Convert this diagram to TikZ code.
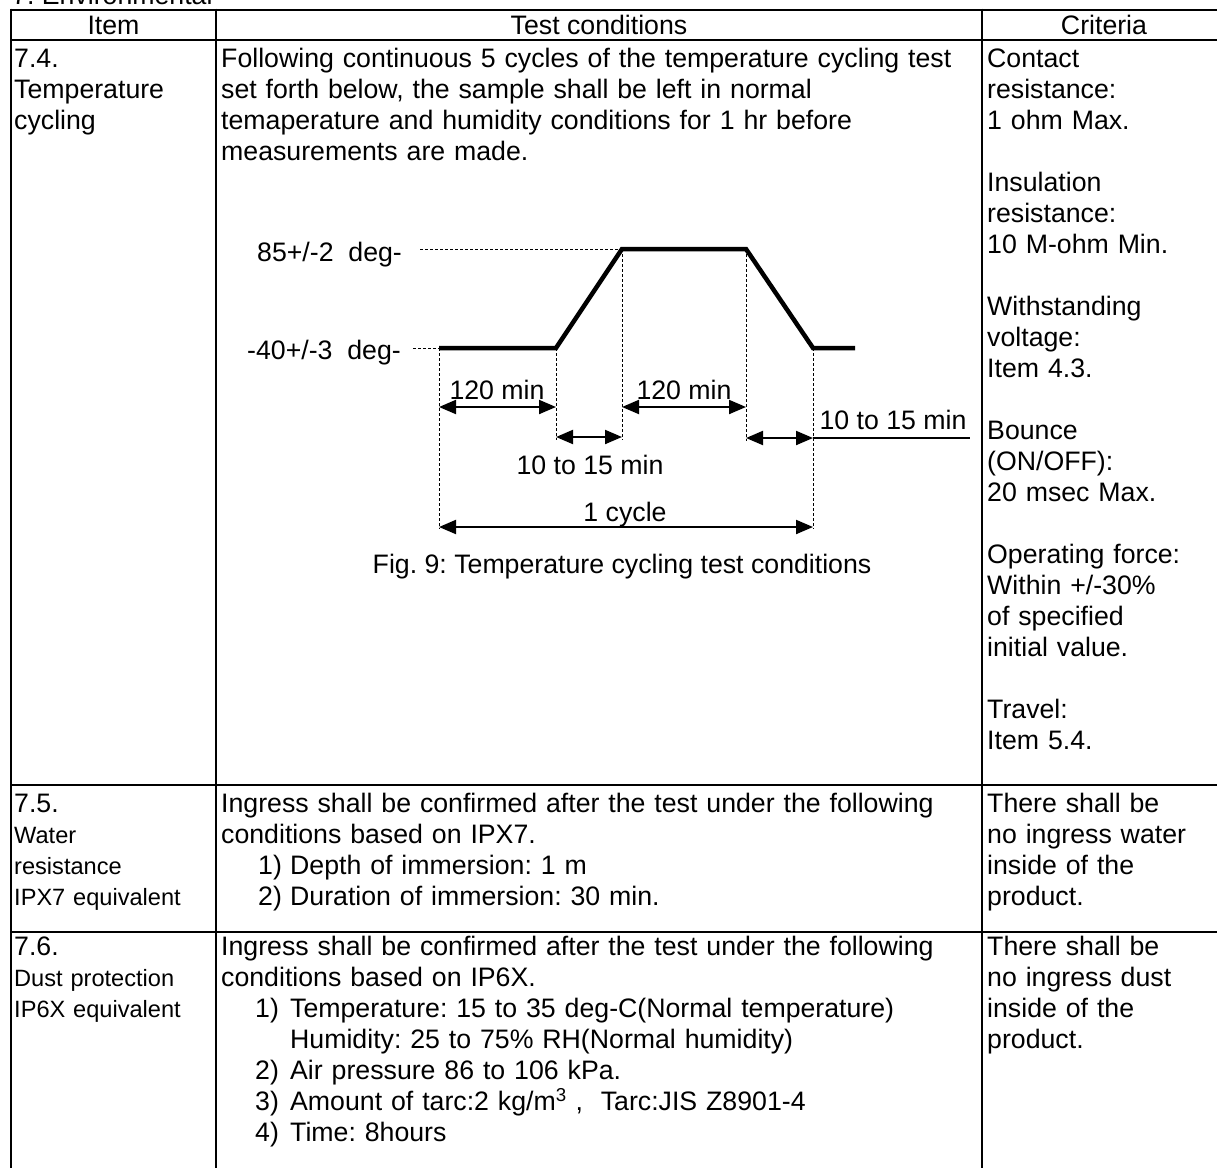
\documentclass[tikz,border=0pt]{standalone}
\usepackage{fontspec}
\setmainfont{Liberation Sans}
\usetikzlibrary{arrows.meta}
\tikzset{
  gridline/.style={line width=2.6pt},
  fnt/.style={font=\fontsize{26.7}{31}\selectfont\frenchspacing, inner sep=0pt},
  smallfnt/.style={font=\fontsize{23.6}{31}\selectfont\frenchspacing, inner sep=0pt},
  hdr/.style={fnt, anchor=base},
  paranode/.style={fnt, anchor=base west, text width=#1, align=left},
  smallpara/.style={smallfnt, anchor=base west, text width=#1, align=left},
  lbl/.style={fnt, anchor=base},
  curve/.style={line width=4.5pt, line join=miter},
  guide/.style={line width=0.8pt, dash pattern=on 3pt off 2pt},
  dimarrow/.style={line width=2pt, {Triangle[length=17pt,width=14pt]}-{Triangle[length=17pt,width=14pt]}},
  thinline/.style={line width=2pt}
}
\begin{document}
\begin{tikzpicture}[x=1pt,y=-1pt]
\useasboundingbox (0,0) rectangle (1217,1167);
\fill[white] (0,0) rectangle (1217,1167);

% title (cut off at the top, as in the reference)
\node[fnt, anchor=base west] (title) at (12,4.5) {7. Environmental};

% table grid
\draw[gridline] (11,10) -- (1230,10);
\draw[gridline] (11,40) -- (1230,40);
\draw[gridline] (11,785) -- (1230,785);
\draw[gridline] (11,932) -- (1230,932);
\draw[gridline] (11,8.7) -- (11,1170);
\draw[gridline] (216,8.7) -- (216,1170);
\draw[gridline] (982,8.7) -- (982,1170);

% header
\node[hdr] (h1) at (113.5,34.5) {Item};
\node[hdr] (h2) at (599,34.5) {Test conditions};
\node[hdr] (h3) at (1104,34.5) {Criteria};

% row 7.4
\node[paranode=200pt] (i74) at (14,67.5) {7.4.\\Temperature\\cycling};
\node[paranode=755pt] (c74) at (221,67.5) {Following continuous 5 cycles of the temperature cycling test\\set forth below, the sample shall be left in normal\\temaperature and humidity conditions for 1 hr before\\measurements are made.};
\node[paranode=230pt] (k74) at (987,67.5) {Contact\\resistance:\\1 ohm Max.\\[31pt]Insulation\\resistance:\\10 M-ohm Min.\\[31pt]Withstanding\\voltage:\\Item 4.3.\\[31pt]Bounce\\(ON/OFF):\\20 msec Max.\\[31pt]Operating force:\\Within +/-30\%\\of specified\\initial value.\\[31pt]Travel:\\Item 5.4.};

% diagram
\coordinate (p0) at (439,348);
\coordinate (p1) at (556,348);
\coordinate (p2) at (622,249);
\coordinate (p3) at (746,249);
\coordinate (p4) at (813,348);
\coordinate (p5) at (855,348);
\coordinate (g85) at (420,249);
\coordinate (g40) at (413,348);

\node[fnt, anchor=base west] (t85) at (257,261) {85+/-2\ \ deg-};
\node[fnt, anchor=base west] (t40) at (247,359) {-40+/-3\ \ deg-};

\draw[guide] (g85) -- (p2);
\draw[guide] (g40) -- (p0);

\coordinate (v0) at (439,529);
\coordinate (v1) at (556,440);
\coordinate (v2) at (622,440);
\coordinate (v3) at (746,441);
\coordinate (v4) at (813,529);
\draw[guide] (p0) -- (v0);
\draw[guide] (p1) -- (v1);
\draw[guide] (p2) -- (v2);
\draw[guide] (p3) -- (v3);
\draw[guide] (p4) -- (v4);

\draw[curve] (p0) -- (p1) -- (p2) -- (p3) -- (p4) -- (p5);

% dimension arrows
\coordinate (a1l) at (439,407);
\coordinate (a1r) at (556,407);
\coordinate (a2l) at (556,437);
\coordinate (a2r) at (622,437);
\coordinate (a3l) at (622,407);
\coordinate (a3r) at (746,407);
\coordinate (a4l) at (746,438);
\coordinate (a4r) at (813,438);
\coordinate (a4e) at (970,438);
\coordinate (a5l) at (439,527);
\coordinate (a5r) at (813,527);

\draw[dimarrow] (a1l) -- (a1r);
\draw[dimarrow] (a2l) -- (a2r);
\draw[dimarrow] (a3l) -- (a3r);
\draw[dimarrow] (a4l) -- (a4r);
\draw[thinline] (a4r) -- (a4e);
\draw[dimarrow] (a5l) -- (a5r);

\node[lbl] (l1) at (497,399) {120 min};
\node[lbl] (l2) at (590,474) {10 to 15 min};
\node[lbl] (l3) at (684,399) {120 min};
\node[lbl] (l4) at (893,429) {10 to 15 min};
\node[lbl] (l5) at (625,521) {1 cycle};

\node[lbl] (cap) at (622,573) {Fig. 9: Temperature cycling test conditions};

% row 7.5
\node[paranode=200pt] (i75) at (14,812.5) {7.5.};
\node[smallpara=200pt] (i75b) at (14,843) {Water\\resistance\\IPX7 equivalent};
\node[paranode=755pt] (c75) at (221,812.5) {Ingress shall be confirmed after the test under the following\\conditions based on IPX7.\\\hspace*{37pt}\makebox[32pt][l]{1)}Depth of immersion: 1 m\\\hspace*{37pt}\makebox[32pt][l]{2)}Duration of immersion: 30 min.};
\node[paranode=230pt] (k75) at (987,812.5) {There shall be\\no ingress water\\inside of the\\product.};

% row 7.6
\node[paranode=200pt] (i76) at (14,955.5) {7.6.};
\node[smallpara=200pt] (i76b) at (14,986) {Dust protection\\IP6X equivalent};
\node[paranode=755pt] (c76) at (221,955.5) {Ingress shall be confirmed after the test under the following\\conditions based on IP6X.\\\hspace*{34pt}\makebox[35pt][l]{1)}Temperature: 15 to 35 deg-C(Normal temperature)\\\hspace*{69pt}Humidity: 25 to 75\% RH(Normal humidity)\\\hspace*{34pt}\makebox[35pt][l]{2)}Air pressure 86 to 106 kPa.\\\hspace*{34pt}\makebox[35pt][l]{3)}Amount of tarc:2 kg/m\textsuperscript{3} ,\ \ Tarc:JIS Z8901-4\\\hspace*{34pt}\makebox[35pt][l]{4)}Time: 8hours};
\node[paranode=230pt] (k76) at (987,955.5) {There shall be\\no ingress dust\\inside of the\\product.};
\end{tikzpicture}
\end{document}
